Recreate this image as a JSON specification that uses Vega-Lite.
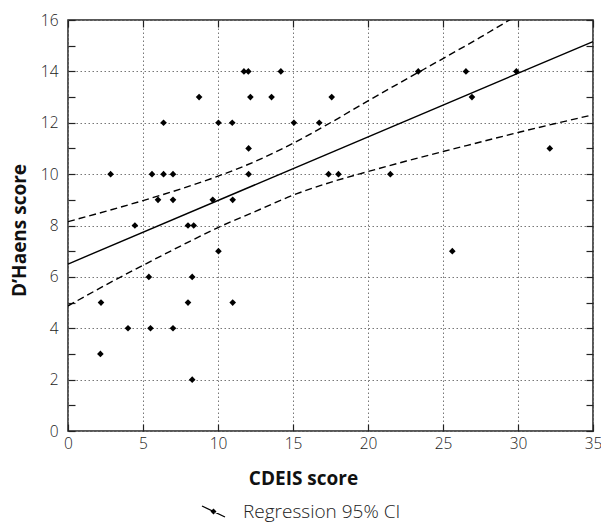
{
  "$schema": "https://vega.github.io/schema/vega-lite/v6.json",
  "width": 525,
  "height": 411,
  "autosize": {"type": "none"},
  "padding": {"left": 68, "top": 20, "right": 8, "bottom": 93},
  "background": "white",
  "config": {
    "view": {"stroke": "#222", "strokeWidth": 1.5},
    "font": "Open Sans",
    "axis": {"labelFont": "Open Sans", "titleFont": "Open Sans"}
  },
  "datasets": {
    "points": [
      {"cdeis": 2.16, "dhaens": 3}, {"cdeis": 2.2, "dhaens": 5}, {"cdeis": 2.84, "dhaens": 10},
      {"cdeis": 4.0, "dhaens": 4}, {"cdeis": 4.46, "dhaens": 8}, {"cdeis": 5.39, "dhaens": 6},
      {"cdeis": 5.5, "dhaens": 4}, {"cdeis": 5.6, "dhaens": 10}, {"cdeis": 6.0, "dhaens": 9},
      {"cdeis": 6.37, "dhaens": 12}, {"cdeis": 6.37, "dhaens": 10}, {"cdeis": 7.0, "dhaens": 10},
      {"cdeis": 7.0, "dhaens": 9}, {"cdeis": 7.0, "dhaens": 4}, {"cdeis": 8.0, "dhaens": 8},
      {"cdeis": 8.0, "dhaens": 5}, {"cdeis": 8.38, "dhaens": 8}, {"cdeis": 8.28, "dhaens": 6},
      {"cdeis": 8.28, "dhaens": 2}, {"cdeis": 8.74, "dhaens": 13}, {"cdeis": 9.65, "dhaens": 9},
      {"cdeis": 10.03, "dhaens": 12}, {"cdeis": 10.03, "dhaens": 7}, {"cdeis": 10.95, "dhaens": 12},
      {"cdeis": 10.98, "dhaens": 9}, {"cdeis": 10.98, "dhaens": 5}, {"cdeis": 11.73, "dhaens": 14},
      {"cdeis": 12.02, "dhaens": 14}, {"cdeis": 12.04, "dhaens": 11}, {"cdeis": 12.04, "dhaens": 10},
      {"cdeis": 12.16, "dhaens": 13}, {"cdeis": 13.57, "dhaens": 13}, {"cdeis": 14.19, "dhaens": 14},
      {"cdeis": 15.06, "dhaens": 12}, {"cdeis": 16.75, "dhaens": 12}, {"cdeis": 17.37, "dhaens": 10},
      {"cdeis": 17.58, "dhaens": 13}, {"cdeis": 18.03, "dhaens": 10}, {"cdeis": 21.49, "dhaens": 10},
      {"cdeis": 23.35, "dhaens": 14}, {"cdeis": 25.62, "dhaens": 7}, {"cdeis": 26.53, "dhaens": 14},
      {"cdeis": 26.93, "dhaens": 13}, {"cdeis": 29.89, "dhaens": 14}, {"cdeis": 32.12, "dhaens": 11}
    ],
    "fit": [
      {"cdeis": 0, "dhaens": 6.5},
      {"cdeis": 35, "dhaens": 15.16}
    ],
    "ci": [
      {"band": "upper", "cdeis": 0, "dhaens": 8.15},
      {"band": "upper", "cdeis": 2.5, "dhaens": 8.55},
      {"band": "upper", "cdeis": 5, "dhaens": 8.97},
      {"band": "upper", "cdeis": 7.5, "dhaens": 9.42},
      {"band": "upper", "cdeis": 10, "dhaens": 9.92},
      {"band": "upper", "cdeis": 12.5, "dhaens": 10.5},
      {"band": "upper", "cdeis": 15, "dhaens": 11.2},
      {"band": "upper", "cdeis": 17.5, "dhaens": 12.0},
      {"band": "upper", "cdeis": 20, "dhaens": 12.85},
      {"band": "upper", "cdeis": 22.5, "dhaens": 13.68},
      {"band": "upper", "cdeis": 25, "dhaens": 14.5},
      {"band": "upper", "cdeis": 27.5, "dhaens": 15.33},
      {"band": "upper", "cdeis": 30, "dhaens": 16.2},
      {"band": "lower", "cdeis": 0, "dhaens": 4.87},
      {"band": "lower", "cdeis": 2.5, "dhaens": 5.68},
      {"band": "lower", "cdeis": 5, "dhaens": 6.45},
      {"band": "lower", "cdeis": 7.5, "dhaens": 7.2},
      {"band": "lower", "cdeis": 10, "dhaens": 7.92},
      {"band": "lower", "cdeis": 12.5, "dhaens": 8.55},
      {"band": "lower", "cdeis": 15, "dhaens": 9.18},
      {"band": "lower", "cdeis": 17.5, "dhaens": 9.68},
      {"band": "lower", "cdeis": 20, "dhaens": 10.1},
      {"band": "lower", "cdeis": 22.5, "dhaens": 10.5},
      {"band": "lower", "cdeis": 25, "dhaens": 10.88},
      {"band": "lower", "cdeis": 27.5, "dhaens": 11.25},
      {"band": "lower", "cdeis": 30, "dhaens": 11.62},
      {"band": "lower", "cdeis": 32.5, "dhaens": 11.97},
      {"band": "lower", "cdeis": 35, "dhaens": 12.31}
    ]
  },
  "resolve": {"axis": {"x": "independent", "y": "independent"}},
  "layer": [
    {
      "data": {"name": "points"},
      "mark": {"type": "point", "shape": "diamond", "filled": true, "color": "black", "size": 44, "opacity": 1},
      "encoding": {
        "x": {
          "field": "cdeis", "type": "quantitative",
          "scale": {"domain": [0, 35], "nice": false, "zero": false},
          "axis": {
            "orient": "bottom", "title": "CDEIS score", "values": [0, 5, 10, 15, 20, 25, 30, 35],
            "domain": false, "tickSize": -7, "tickColor": "#222", "tickWidth": 1.2,
            "labelPadding": 12, "labelFontSize": 15.5, "labelFontWeight": 300, "labelColor": "#222",
            "labelFlush": false, "labelOverlap": false,
            "grid": true, "gridColor": "#777", "gridDash": [1.5, 2.5], "gridWidth": 1, "gridOpacity": 1,
            "titleFontSize": 19, "titleFontWeight": "bold", "titleColor": "#111",
            "titleX": 235, "titleY": 53, "titleAlign": "center", "titleBaseline": "alphabetic"
          }
        },
        "y": {
          "field": "dhaens", "type": "quantitative",
          "scale": {"domain": [0, 16], "nice": false, "zero": false},
          "axis": {
            "orient": "left", "title": "D’Haens score",
            "values": [0, 2, 4, 6, 8, 10, 12, 14, 16],
            "domain": false, "tickSize": -7, "tickColor": "#222", "tickWidth": 1.2,
            "labelPadding": 17, "labelFontSize": 15.5, "labelFontWeight": 300, "labelColor": "#222",
            "labelOverlap": false, "labelFlush": false,
            "grid": true, "gridColor": "#777", "gridDash": [1.5, 2.5], "gridWidth": 1, "gridOpacity": 1,
            "titleFontSize": 19, "titleFontWeight": "bold", "titleColor": "#111",
            "titleX": -43, "titleY": 210, "titleAlign": "center", "titleBaseline": "alphabetic", "titleAngle": 270
          }
        }
      }
    },
    {
      "data": {"name": "fit"},
      "mark": {"type": "line", "strokeWidth": 1.4},
      "encoding": {
        "x": {
          "field": "cdeis", "type": "quantitative",
          "axis": {
            "orient": "top", "title": null, "labels": false, "grid": false, "domain": false,
            "values": [0, 5, 10, 15, 20, 25, 30, 35], "tickSize": -7, "tickColor": "#222", "tickWidth": 1.2
          }
        },
        "y": {
          "field": "dhaens", "type": "quantitative",
          "axis": {
            "orient": "right", "title": null, "labels": false, "grid": false, "domain": false,
            "values": [0, 1, 2, 3, 4, 5, 6, 7, 8, 9, 10, 11, 12, 13, 14, 15, 16],
            "tickSize": -7, "tickColor": "#222", "tickWidth": 1.2
          }
        },
        "color": {
          "datum": "Regression 95% CI",
          "scale": {"range": ["black"]},
          "legend": {
            "title": null, "orient": "none", "legendX": 133, "legendY": 479, "padding": 0,
            "symbolType": "M-1,-0.48L1,0.48M-0.18,0L0,-0.18L0.18,0L0,0.18Z",
            "symbolSize": 529, "symbolStrokeWidth": 1.3, "symbolFillColor": "black", "symbolStrokeColor": "black",
            "labelFontSize": 19, "labelFontWeight": 300, "labelColor": "#222", "labelOffset": 17, "labelFont": "Open Sans",
            "labelLimit": 400
          }
        }
      }
    },
    {
      "data": {"name": "ci"},
      "mark": {"type": "line", "strokeWidth": 1.4, "strokeDash": [7, 4], "color": "black", "clip": true, "interpolate": "monotone"},
      "encoding": {
        "x": {"field": "cdeis", "type": "quantitative", "axis": null},
        "y": {
          "field": "dhaens", "type": "quantitative",
          "axis": {
            "orient": "left", "title": null, "labels": false, "grid": false, "domain": false,
            "values": [1, 3, 5, 7, 9, 11, 13, 15],
            "tickSize": -7, "tickColor": "#222", "tickWidth": 1.2
          }
        },
        "detail": {"field": "band"}
      }
    }
  ]
}
